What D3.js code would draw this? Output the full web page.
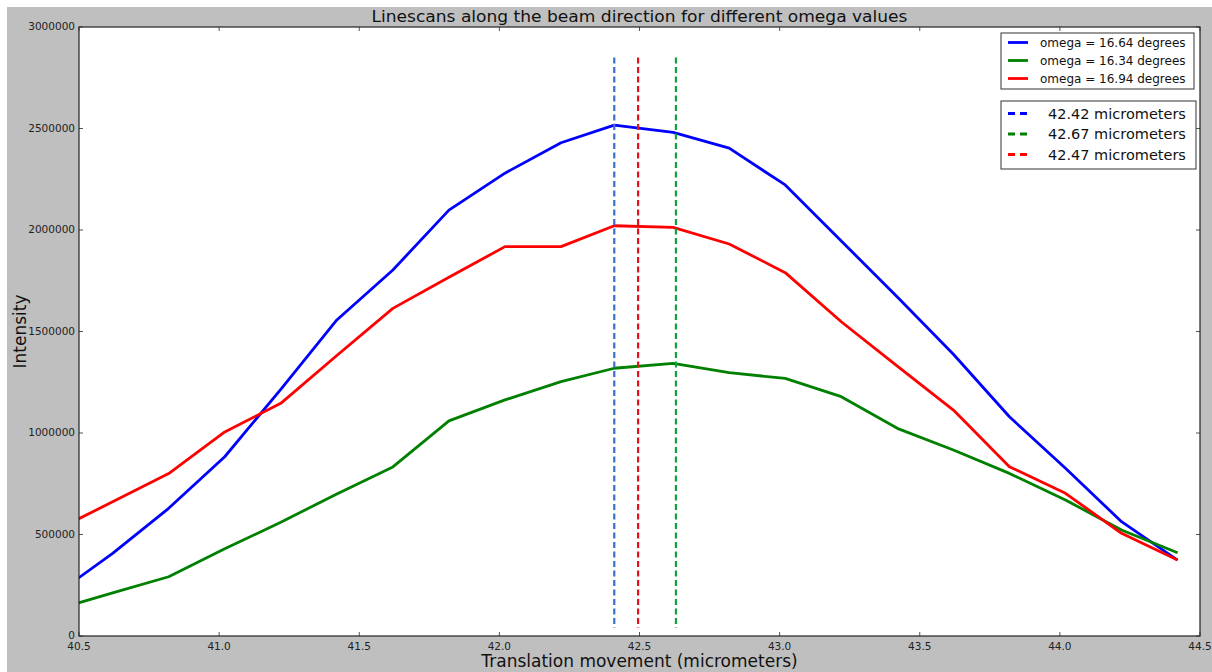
<!DOCTYPE html>
<html>
<head>
<meta charset="utf-8">
<script src="https://cdn.jsdelivr.net/npm/d3@7"></script>
<style>
  html, body { margin: 0; padding: 0; background: #fff; }
  svg { display: block; font-family: "DejaVu Sans", sans-serif; }
</style>
</head>
<body>
<div class="chart"></div>
<script>
// positions of the scan (micrometers)
var positions = [40.42, 40.62, 40.82, 41.02, 41.22, 41.42, 41.62, 41.82, 42.02, 42.22, 42.41,
                 42.62, 42.82, 43.02, 43.22, 43.42, 43.62, 43.82, 44.02, 44.22, 44.42];

var seriesNames = ["omega = 16.64 degrees", "omega = 16.34 degrees", "omega = 16.94 degrees"];
var seriesColours = ["#0000ff", "#008000", "#ff0000"];

var omega1664 = [208000, 407000, 629000, 883000, 1215000, 1557000, 1803000, 2098000, 2280000, 2430000, 2517000,
                 2481000, 2403000, 2222000, 1946000, 1670000, 1388000, 1080000, 826000, 563000, 374000];
var omega1634 = [132000, 212000, 292000, 430000, 560000, 700000, 833000, 1060000, 1163000, 1253000, 1319000,
                 1343000, 1297000, 1269000, 1179000, 1023000, 916000, 801000, 670000, 522000, 410000];
var omega1694 = [523000, 661000, 800000, 1005000, 1146000, 1382000, 1614000, 1767000, 1918000, 1918000, 2021000,
                 2013000, 1931000, 1790000, 1548000, 1329000, 1113000, 834000, 703000, 506000, 374000];

// fitted centres (dashed lines)
var centreLabels = ["42.42 micrometers", "42.67 micrometers", "42.47 micrometers"];
var centrePositions = [42.41, 42.63, 42.495];
var centreColours = ["#3b6fd0", "#10a040", "#e8101c"];
var centreKeyColours = ["#0000ff", "#008000", "#ff0000"];
var centreSpan = [40000, 2850000];

var xTicks = [40.5, 41.0, 41.5, 42.0, 42.5, 43.0, 43.5, 44.0, 44.5];
var yTicks = [0, 500000, 1000000, 1500000, 2000000, 2500000, 3000000];

var width = 1212, height = 672;
var margin = {top: 27, right: 12, bottom: 36, left: 79};

var svg = d3.select(".chart").append("svg").attr("width", width).attr("height", height);

// figure background (small white strip top/left like the screenshot)
svg.append("rect").attr("x", 7).attr("y", 7).attr("width", width - 7).attr("height", height - 7).attr("fill", "#bfbfbf");

var x = d3.scaleLinear().domain([40.5, 44.5]).range([margin.left, width - margin.right]);
var y = d3.scaleLinear().domain([0, 3000000]).range([height - margin.bottom, margin.top]);

var pw = x.range()[1] - x.range()[0];
var ph = y.range()[0] - y.range()[1];

svg.append("rect").attr("x", margin.left).attr("y", margin.top).attr("width", pw).attr("height", ph).attr("fill", "#fff");

svg.append("clipPath").attr("id", "plotclip")
    .append("rect").attr("x", margin.left).attr("y", margin.top).attr("width", pw).attr("height", ph);

var plot = svg.append("g").attr("clip-path", "url(#plotclip)");

var series = [omega1664, omega1634, omega1694].map((vals, i) => {
    return {name: seriesNames[i], colour: seriesColours[i], points: vals.map((v, j) => [positions[j], v])};
});

var line = d3.line().x(d => x(d[0])).y(d => y(d[1]));

plot.selectAll(".scan").data(series).enter().append("path")
    .attr("class", "scan")
    .attr("d", d => line(d.points))
    .attr("fill", "none")
    .attr("stroke", d => d.colour)
    .attr("stroke-width", 2.8)
    .attr("stroke-linejoin", "round");

// dashed centre lines
plot.selectAll(".centre").data(centrePositions).enter().append("line")
    .attr("class", "centre")
    .attr("x1", d => x(d)).attr("x2", d => x(d))
    .attr("y1", y(centreSpan[1])).attr("y2", y(centreSpan[0]))
    .attr("stroke", (d, i) => centreColours[i])
    .attr("stroke-width", 2.2)
    .attr("stroke-dasharray", "6,3.5");

// axes: ticks pointing inwards on all sides
var tickLen = 4;
var axes = svg.append("g").attr("font-size", 10.5).attr("fill", "#222");

var xt = axes.selectAll(".xtick").data(xTicks).enter().append("g");
xt.append("line").attr("x1", d => x(d)).attr("x2", d => x(d))
    .attr("y1", y(0)).attr("y2", y(0) - tickLen).attr("stroke", "#555");
xt.append("line").attr("x1", d => x(d)).attr("x2", d => x(d))
    .attr("y1", y(3000000)).attr("y2", y(3000000) + tickLen).attr("stroke", "#555");
xt.append("text").attr("x", d => x(d)).attr("y", y(0) + 14)
    .attr("text-anchor", "middle").text(d => d.toFixed(1));

var yt = axes.selectAll(".ytick").data(yTicks).enter().append("g");
yt.append("line").attr("x1", x(40.5)).attr("x2", x(40.5) + tickLen)
    .attr("y1", d => y(d)).attr("y2", d => y(d)).attr("stroke", "#555");
yt.append("line").attr("x1", x(44.5)).attr("x2", x(44.5) - tickLen)
    .attr("y1", d => y(d)).attr("y2", d => y(d)).attr("stroke", "#555");
yt.append("text").attr("x", x(40.5) - 4).attr("y", d => y(d) + 3)
    .attr("text-anchor", "end").text(d => d);

// frame
svg.append("rect").attr("x", margin.left).attr("y", margin.top).attr("width", pw).attr("height", ph)
    .attr("fill", "none").attr("stroke", "#222").attr("stroke-width", 1.2);

// titles
svg.append("text").attr("x", (x.range()[0] + x.range()[1]) / 2).attr("y", 22)
    .attr("text-anchor", "middle").attr("font-size", 16).attr("fill", "#111")
    .attr("textLength", 536).attr("lengthAdjust", "spacingAndGlyphs")
    .text("Linescans along the beam direction for different omega values");

svg.append("text").attr("x", (x.range()[0] + x.range()[1]) / 2).attr("y", 667)
    .attr("text-anchor", "middle").attr("font-size", 17).attr("fill", "#111")
    .text("Translation movement (micrometers)");

svg.append("text").attr("transform", "translate(26," + (y.range()[0] + y.range()[1]) / 2 + ") rotate(-90)")
    .attr("text-anchor", "middle").attr("font-size", 17).attr("fill", "#111")
    .text("Intensity");

// legend for the scans
var leg1 = svg.append("g").attr("transform", "translate(1001,33)");
leg1.append("rect").attr("width", 193).attr("height", 56).attr("fill", "#fff").attr("stroke", "#333");
var l1 = leg1.selectAll("g").data(series).enter().append("g")
    .attr("transform", (d, i) => "translate(0," + (9.5 + i * 18) + ")");
l1.append("line").attr("x1", 7).attr("x2", 27).attr("stroke", d => d.colour).attr("stroke-width", 2.8);
l1.append("text").attr("x", 39).attr("y", 4.5).attr("font-size", 12).attr("fill", "#111").text(d => d.name);

// legend for the centres
var leg2 = svg.append("g").attr("transform", "translate(1001,101)");
leg2.append("rect").attr("width", 195).attr("height", 68).attr("fill", "#fff").attr("stroke", "#333");
var l2 = leg2.selectAll("g").data(centreLabels).enter().append("g")
    .attr("transform", (d, i) => "translate(0," + (12.5 + i * 20.5) + ")");
l2.append("line").attr("x1", 7).attr("x2", 28)
    .attr("stroke", (d, i) => centreKeyColours[i]).attr("stroke-width", 2.8).attr("stroke-dasharray", "7,5");
l2.append("text").attr("x", 47).attr("y", 5).attr("font-size", 14.5).attr("fill", "#111").text(d => d);
</script>
</body>
</html>
